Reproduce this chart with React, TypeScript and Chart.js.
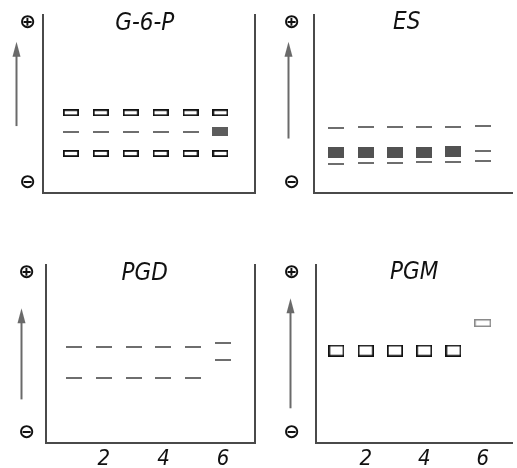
import React, { useEffect, useRef } from 'react';
import { Chart, registerables } from 'chart.js';

Chart.register(...registerables);

// ---------- data ----------
const lanes = [1, 2, 3, 4, 5, 6];
const laneTicks = [2, 4, 6];
const poleTicks = [5.5, 95.5];
const poleLabels = ['⊖', '⊕'];

// relative mobility (0 = start at cathode side, 100 = anode end)
const g6pFastBoxes = [45.1, 45.1, 45.1, 45.1, 45.1, 45.1];
const g6pMidDashes = [34.1, 34.1, 34.1, 34.1, 34.1, null];
const g6pMidSpot = [null, null, null, null, null, 34.3];
const g6pSlowBoxes = [22.2, 22.2, 22.2, 22.2, 22.2, 22.2];

const esTopDashes = [36.6, 36.8, 36.8, 37.1, 37.1, 37.5];
const esBlocks = [22.9, 22.9, 22.9, 22.9, 23.5, null];
const esMidDash = [null, null, null, null, null, 23.6];
const esLowDashes = [16.5, 16.9, 16.9, 17.4, 17.4, 17.8];

const pgdUpperDashes = [53.8, 53.8, 53.8, 53.8, 53.8, 56.2];
const pgdLowerDashes = [36.3, 36.3, 36.3, 36.3, 36.7, 46.6];

const pgmBoxes = [51.9, 51.9, 51.9, 51.9, 51.9, null];
const pgmShiftedBox = [null, null, null, null, null, 67.4];

// ---------- styles ----------
const AXIS_COLOR = '#4a4a4a';
const ARROW_COLOR = '#6a6a6a';
const TEXT_COLOR = '#111111';
const NARROW_ITALIC = '"Liberation Sans Narrow", "DejaVu Sans Condensed", "Liberation Sans", sans-serif';

type BandStyle = { w: number; h: number; fill?: string; stroke?: string; lw?: number };

const bandStyles: Record<string, BandStyle> = {
  box: { w: 16, h: 7, stroke: '#111', lw: 1.8 },
  spot: { w: 16, h: 9, fill: '#5c5c5c' },
  dash: { w: 16, h: 2, fill: '#6e6e6e' },
  block: { w: 16, h: 11, fill: '#525252' },
  bigBox: { w: 16, h: 12, stroke: '#111', lw: 1.7 },
  paleBox: { w: 17, h: 8, stroke: '#8a8a8a', lw: 1.5 },
};

function makeBand(s: BandStyle): HTMLCanvasElement {
  const c = document.createElement('canvas');
  c.width = s.w;
  c.height = s.h;
  const g = c.getContext('2d')!;
  if (s.fill) {
    g.fillStyle = s.fill;
    g.fillRect(0, 0, s.w, s.h);
  }
  if (s.stroke) {
    const lw = s.lw || 1.5;
    g.fillStyle = '#ffffff';
    g.fillRect(0, 0, s.w, s.h);
    g.strokeStyle = s.stroke;
    g.lineWidth = lw;
    g.strokeRect(lw / 2, lw / 2, s.w - lw, s.h - lw);
  }
  return c;
}

const gelDecor = {
  id: 'gelDecor',
  afterDraw(chart: any, _args: any, opts: any) {
    const { ctx, chartArea, scales } = chart;
    const xs = scales.x;
    const ys = scales.y;
    ctx.save();
    // title
    ctx.fillStyle = TEXT_COLOR;
    ctx.font = `italic ${opts.titleSize}px ${NARROW_ITALIC}`;
    ctx.textAlign = 'center';
    ctx.textBaseline = 'middle';
    ctx.fillText(opts.title, xs.getPixelForValue(opts.titleLane), ys.getPixelForValue(opts.titleLevel));
    // migration arrow
    const ax = Math.round(chartArea.left - opts.arrowGap) + 0.5;
    const yFrom = ys.getPixelForValue(opts.arrowFrom);
    const yTo = ys.getPixelForValue(opts.arrowTo);
    ctx.strokeStyle = ARROW_COLOR;
    ctx.fillStyle = ARROW_COLOR;
    ctx.lineWidth = 2;
    ctx.beginPath();
    ctx.moveTo(ax, yFrom);
    ctx.lineTo(ax, yTo + 10);
    ctx.stroke();
    ctx.beginPath();
    ctx.moveTo(ax, yTo);
    ctx.lineTo(ax - 4, yTo + 15);
    ctx.lineTo(ax + 4, yTo + 15);
    ctx.closePath();
    ctx.fill();
    ctx.restore();
  },
};

type Band = { values: (number | null)[]; style: string };

type PanelSpec = {
  left: number;
  top: number;
  width: number;
  height: number;
  yAxisWidth: number;
  xAxisHeight: number;
  padTop: number;
  padRight: number;
  padBottom: number;
  xMin: number;
  xMax: number;
  rightWall: boolean;
  showLaneTicks: boolean;
  poleGap: number;
  title: string;
  titleLane: number;
  titleLevel: number;
  titleSize: number;
  arrowFrom: number;
  arrowTo: number;
  arrowGap: number;
  bands: Band[];
};

const panels: PanelSpec[] = [
  {
    left: 0, top: 0, width: 260, height: 250,
    yAxisWidth: 43, xAxisHeight: 0, padTop: 15, padRight: 4, padBottom: 57,
    xMin: 0.067, xMax: 7.157, rightWall: true, showLaneTicks: false, poleGap: 7,
    title: 'G-6-P', titleLane: 3.47, titleLevel: 95.3, titleSize: 24,
    arrowFrom: 37.6, arrowTo: 85, arrowGap: 27,
    bands: [
      { values: g6pFastBoxes, style: 'box' },
      { values: g6pMidDashes, style: 'dash' },
      { values: g6pMidSpot, style: 'spot' },
      { values: g6pSlowBoxes, style: 'box' },
    ],
  },
  {
    left: 260, top: 0, width: 257, height: 250,
    yAxisWidth: 54, xAxisHeight: 0, padTop: 15, padRight: 0, padBottom: 57,
    xMin: 0.233, xMax: 7.0, rightWall: false, showLaneTicks: false, poleGap: 14,
    title: 'ES', titleLane: 3.4, titleLevel: 95.5, titleSize: 24,
    arrowFrom: 30.6, arrowTo: 85, arrowGap: 26,
    bands: [
      { values: esTopDashes, style: 'dash' },
      { values: esBlocks, style: 'block' },
      { values: esMidDash, style: 'dash' },
      { values: esLowDashes, style: 'dash' },
    ],
  },
  {
    left: 0, top: 250, width: 260, height: 218,
    yAxisWidth: 46, xAxisHeight: 25, padTop: 15, padRight: 4, padBottom: 0,
    xMin: 0.067, xMax: 7.067, rightWall: true, showLaneTicks: true, poleGap: 11,
    title: 'PGD', titleLane: 3.37, titleLevel: 95.0, titleSize: 24,
    arrowFrom: 24.5, arrowTo: 75.7, arrowGap: 25,
    bands: [
      { values: pgdUpperDashes, style: 'dash' },
      { values: pgdLowerDashes, style: 'dash' },
    ],
  },
  {
    left: 260, top: 250, width: 257, height: 218,
    yAxisWidth: 56, xAxisHeight: 25, padTop: 15, padRight: 0, padBottom: 0,
    xMin: 0.3, xMax: 7.0, rightWall: false, showLaneTicks: true, poleGap: 16,
    title: 'PGM', titleLane: 3.66, titleLevel: 95.6, titleSize: 24,
    arrowFrom: 19.5, arrowTo: 81.3, arrowGap: 26,
    bands: [
      { values: pgmBoxes, style: 'bigBox' },
      { values: pgmShiftedBox, style: 'paleBox' },
    ],
  },
];

function clearScalePadding(s: any) {
  s.paddingTop = 0;
  s.paddingBottom = 0;
  s.paddingLeft = 0;
  s.paddingRight = 0;
}

function GelPanel({ spec }: { spec: PanelSpec }) {
  const ref = useRef<HTMLCanvasElement | null>(null);

  useEffect(() => {
    if (!ref.current) return;
    const border = { display: true, color: AXIS_COLOR, width: 2 };
    const chart = new Chart(ref.current, {
      type: 'scatter',
      data: {
        datasets: spec.bands.map((b) => ({
          data: lanes.map((lane, i) => ({ x: lane, y: b.values[i] })),
          pointStyle: makeBand(bandStyles[b.style]),
          pointRadius: 4,
          pointHoverRadius: 4,
          showLine: false,
        })),
      } as any,
      plugins: [gelDecor as any],
      options: {
        responsive: false,
        animation: false,
        events: [],
        layout: {
          padding: { left: 0, top: spec.padTop, right: spec.padRight, bottom: spec.padBottom },
        },
        plugins: {
          legend: { display: false },
          tooltip: { enabled: false },
          title: { display: false },
          gelDecor: {
            title: spec.title,
            titleLane: spec.titleLane,
            titleLevel: spec.titleLevel,
            titleSize: spec.titleSize,
            arrowFrom: spec.arrowFrom,
            arrowTo: spec.arrowTo,
            arrowGap: spec.arrowGap,
          },
        } as any,
        scales: {
          x: {
            type: 'linear',
            position: 'bottom',
            min: spec.xMin,
            max: spec.xMax,
            grid: { display: false, drawTicks: false },
            border,
            afterBuildTicks: (s: any) => {
              s.ticks = spec.showLaneTicks ? laneTicks.map((v) => ({ value: v })) : [];
            },
            afterFit: (s: any) => {
              s.height = spec.xAxisHeight;
              clearScalePadding(s);
            },
            ticks: {
              display: spec.showLaneTicks,
              color: TEXT_COLOR,
              padding: 3,
              maxRotation: 0,
              autoSkip: false,
              font: { family: NARROW_ITALIC, size: 22, style: 'italic' },
              callback: (v: any) => String(v),
            },
          },
          y: {
            type: 'linear',
            position: 'left',
            min: 0,
            max: 100,
            grid: { display: false, drawTicks: false },
            border,
            afterBuildTicks: (s: any) => {
              s.ticks = poleTicks.map((v) => ({ value: v }));
            },
            afterFit: (s: any) => {
              s.width = spec.yAxisWidth;
              clearScalePadding(s);
            },
            ticks: {
              color: TEXT_COLOR,
              padding: spec.poleGap,
              font: { family: '"DejaVu Sans", sans-serif', size: 20, weight: 'bold' },
              callback: (v: any) => poleLabels[poleTicks.indexOf(Number(v))] ?? '',
            },
          },
          wall: {
            type: 'linear',
            position: 'right',
            display: spec.rightWall,
            min: 0,
            max: 100,
            grid: { display: false, drawTicks: false },
            border,
            ticks: { display: false },
            afterFit: (s: any) => {
              s.width = 0;
              clearScalePadding(s);
            },
          },
        } as any,
      },
    } as any);
    return () => chart.destroy();
  }, [spec]);

  return (
    <canvas
      ref={ref}
      width={spec.width}
      height={spec.height}
      style={{ position: 'absolute', left: spec.left, top: spec.top, width: spec.width, height: spec.height }}
    />
  );
}

export default function App() {
  return (
    <div style={{ position: 'absolute', left: 0, top: 0, width: 517, height: 468, background: '#ffffff', overflow: 'hidden' }}>
      {panels.map((p, i) => (
        <GelPanel key={i} spec={p} />
      ))}
    </div>
  );
}
